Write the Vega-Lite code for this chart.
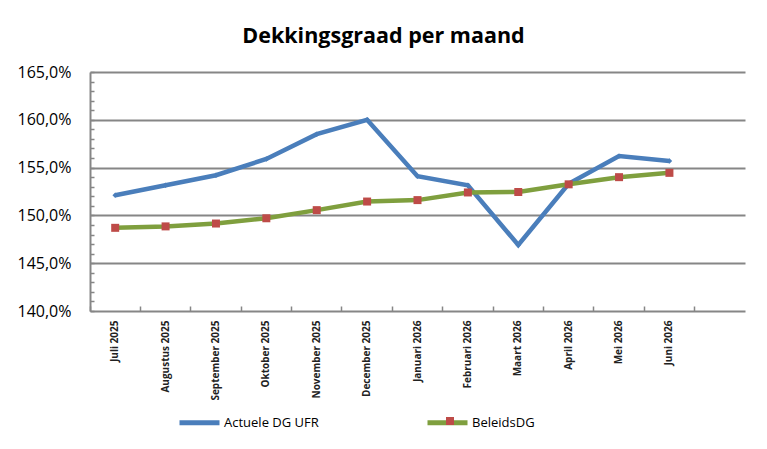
{
  "$schema": "https://vega.github.io/schema/vega-lite/v6.json",
  "width": 655,
  "height": 239,
  "autosize": "none",
  "padding": {"left": 90, "top": 72, "right": 22, "bottom": 138},
  "background": "white",
  "title": {
    "text": "Dekkingsgraad per maand",
    "font": "Open Sans",
    "fontSize": 21.5,
    "fontWeight": "bold",
    "color": "black",
    "anchor": "middle",
    "offset": 17,
    "dx": -34
  },
  "data": {
    "values": [
      {"maand": "Juli 2025", "serie": "Actuele DG UFR", "waarde": 152.1},
      {"maand": "Augustus 2025", "serie": "Actuele DG UFR", "waarde": 153.15},
      {"maand": "September 2025", "serie": "Actuele DG UFR", "waarde": 154.2},
      {"maand": "Oktober 2025", "serie": "Actuele DG UFR", "waarde": 155.9},
      {"maand": "November 2025", "serie": "Actuele DG UFR", "waarde": 158.5},
      {"maand": "December 2025", "serie": "Actuele DG UFR", "waarde": 160.0},
      {"maand": "Januari 2026", "serie": "Actuele DG UFR", "waarde": 154.1},
      {"maand": "Februari 2026", "serie": "Actuele DG UFR", "waarde": 153.15},
      {"maand": "Maart 2026", "serie": "Actuele DG UFR", "waarde": 146.9},
      {"maand": "April 2026", "serie": "Actuele DG UFR", "waarde": 153.3},
      {"maand": "Mei 2026", "serie": "Actuele DG UFR", "waarde": 156.2},
      {"maand": "Juni 2026", "serie": "Actuele DG UFR", "waarde": 155.7},
      {"maand": "Juli 2025", "serie": "BeleidsDG", "waarde": 148.7},
      {"maand": "Augustus 2025", "serie": "BeleidsDG", "waarde": 148.85},
      {"maand": "September 2025", "serie": "BeleidsDG", "waarde": 149.15},
      {"maand": "Oktober 2025", "serie": "BeleidsDG", "waarde": 149.7},
      {"maand": "November 2025", "serie": "BeleidsDG", "waarde": 150.55},
      {"maand": "December 2025", "serie": "BeleidsDG", "waarde": 151.45},
      {"maand": "Januari 2026", "serie": "BeleidsDG", "waarde": 151.6},
      {"maand": "Februari 2026", "serie": "BeleidsDG", "waarde": 152.4},
      {"maand": "Maart 2026", "serie": "BeleidsDG", "waarde": 152.45},
      {"maand": "April 2026", "serie": "BeleidsDG", "waarde": 153.25},
      {"maand": "Mei 2026", "serie": "BeleidsDG", "waarde": 154.0},
      {"maand": "Juni 2026", "serie": "BeleidsDG", "waarde": 154.45}
    ]
  },
  "encoding": {
    "x": {
      "field": "maand",
      "type": "ordinal",
      "sort": null,
      "scale": {
        "type": "band",
        "paddingInner": 0,
        "paddingOuter": 0,
        "domain": ["Juli 2025", "Augustus 2025", "September 2025", "Oktober 2025", "November 2025", "December 2025", "Januari 2026", "Februari 2026", "Maart 2026", "April 2026", "Mei 2026", "Juni 2026", " "]
      },
      "axis": {
        "title": null,
        "labelAngle": -90,
        "labelFont": "Open Sans",
        "labelFontSize": 10,
        "labelFontWeight": "bold",
        "labelColor": "#222222",
        "bandPosition": 0,
        "labelOffset": 0,
        "tickSize": -5,
        "tickColor": "#868686",
        "tickWidth": 1.5,
        "labelPadding": 14,
        "domainColor": "#868686",
        "domainWidth": 2,
        "grid": false
      }
    },
    "y": {
      "field": "waarde",
      "type": "quantitative",
      "scale": {"domain": [140, 165], "nice": false, "zero": false},
      "axis": {
        "title": null,
        "values": [140, 141, 142, 143, 144, 145, 146, 147, 148, 149, 150, 151, 152, 153, 154, 155, 156, 157, 158, 159, 160, 161, 162, 163, 164, 165],
        "labelExpr": "datum.value % 5 == 0 ? replace(format(datum.value, '.1f'), '.', ',') + '%' : ''",
        "labelFont": "Open Sans",
        "labelFontSize": 16,
        "labelColor": "black",
        "labelPadding": 23,
        "tickSize": -4,
        "tickColor": "#868686",
        "tickWidth": 1.5,
        "domainColor": "#868686",
        "domainWidth": 2,
        "grid": true,
        "gridColor": "#868686",
        "gridWidth": 2,
        "gridOpacity": {"condition": {"test": "datum.value % 5 == 0 && datum.value > 140", "value": 1}, "value": 0}
      }
    }
  },
  "layer": [
    {
      "mark": {"type": "line", "strokeWidth": 4.5},
      "encoding": {
        "color": {
          "field": "serie",
          "type": "nominal",
          "scale": {"domain": ["Actuele DG UFR", "BeleidsDG"], "range": ["#4A7EBB", "#7F9F3E"]},
          "legend": {
            "title": null,
            "orient": "none",
            "legendX": 87,
            "legendY": 328,
            "padding": 0,
            "direction": "horizontal",
            "symbolType": "stroke",
            "symbolSize": 1600,
            "symbolStrokeWidth": 5,
            "labelFont": "Open Sans",
            "labelFontSize": 13,
            "labelColor": "black",
            "labelOffset": 2,
            "columnPadding": 98
          }
        }
      }
    },
    {
      "transform": [{"filter": "datum.serie == 'Actuele DG UFR'"}],
      "mark": {"type": "point", "shape": "diamond", "filled": true, "size": 30, "color": "#4A7EBB", "opacity": 1}
    },
    {
      "transform": [{"filter": "datum.serie == 'BeleidsDG'"}],
      "mark": {"type": "point", "filled": true, "size": 64, "color": "#BE4B48", "opacity": 1},
      "encoding": {
        "shape": {
          "field": "serie",
          "type": "nominal",
          "scale": {"domain": ["BeleidsDG"], "range": ["square"]},
          "legend": {
            "title": null,
            "orient": "none",
            "legendX": 355,
            "legendY": 344,
            "padding": 0,
            "symbolSize": 64,
            "symbolFillColor": "#BE4B48",
            "symbolStrokeWidth": 0,
            "symbolOpacity": 1,
            "labelExpr": "''"
          }
        }
      }
    }
  ],
  "config": {
    "view": {"stroke": null},
    "font": "Open Sans"
  }
}
